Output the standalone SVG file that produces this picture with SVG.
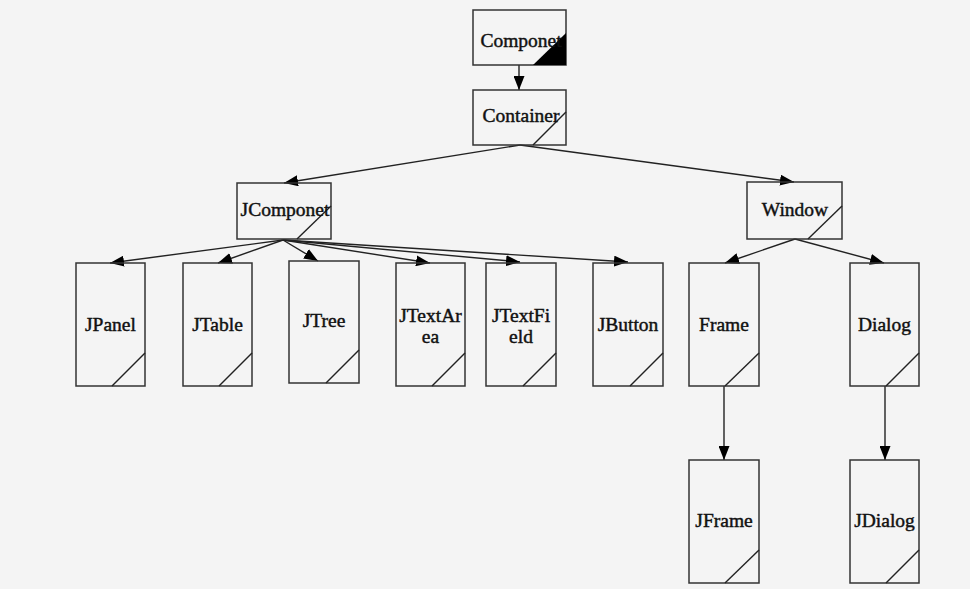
<svg xmlns="http://www.w3.org/2000/svg" width="970" height="589" viewBox="0 0 970 589">
<style>
.box{fill:none;stroke:#333;stroke-width:1.5}
.diag{fill:none;stroke:#222;stroke-width:1.4}
.lbl{font-family:"Liberation Serif","Times New Roman",serif;font-size:19.5px;fill:#111;stroke:#111;stroke-width:0.45;text-anchor:middle}
.conn{fill:none;stroke:#222;stroke-width:1.4;marker-end:url(#arr)}
</style>
<defs>
<marker id="arr" viewBox="0 0 14 11" refX="14" refY="5.5" markerWidth="14" markerHeight="11" markerUnits="userSpaceOnUse" orient="auto">
<path d="M0,0 L14,5.5 L0,11 Z" fill="#000"/>
</marker>
</defs>
<rect x="0" y="0" width="970" height="589" fill="#f4f4f4"/>
<g id="connectors">
<path class="conn" d="M519,65 L519,90"/>
<path class="conn" d="M520,145 L284,183"/>
<path class="conn" d="M520,145 L794,182"/>
<path class="conn" d="M283,240 L110,263"/>
<path class="conn" d="M283,240 L218,263"/>
<path class="conn" d="M283,240 L318,261"/>
<path class="conn" d="M283,240 L430,263"/>
<path class="conn" d="M283,240 L520,262"/>
<path class="conn" d="M283,240 L628,262"/>
<path class="conn" d="M795,239 L725,263"/>
<path class="conn" d="M795,239 L884,263"/>
<path class="conn" d="M724,386 L724,460"/>
<path class="conn" d="M885,386 L885,460"/>
</g>
<g id="Componet">
<rect class="box" x="473" y="10" width="93" height="55"/>
<path d="M533,65 L566,65 L566,33 Z" fill="#000"/>
<text class="lbl" x="521" y="47">Componet</text>
</g>
<g id="Container">
<rect class="box" x="473" y="90" width="93" height="55"/>
<path class="diag" d="M533,145 L566,112"/>
<text class="lbl" x="521" y="122">Container</text>
</g>
<g id="JComponet">
<rect class="box" x="237" y="183" width="94" height="56"/>
<path class="diag" d="M297,239 L331,206"/>
<text class="lbl" x="285" y="216">JComponet</text>
</g>
<g id="Window">
<rect class="box" x="747" y="182" width="95" height="57"/>
<path class="diag" d="M808,239 L842,206"/>
<text class="lbl" x="795" y="216">Window</text>
</g>
<g id="JPanel">
<rect class="box" x="76" y="263" width="69" height="123"/>
<path class="diag" d="M112,386 L145,353"/>
<text class="lbl" x="110.5" y="331">JPanel</text>
</g>
<g id="JTable">
<rect class="box" x="183" y="263" width="69" height="123"/>
<path class="diag" d="M219,386 L252,353"/>
<text class="lbl" x="217.5" y="331">JTable</text>
</g>
<g id="JTree">
<rect class="box" x="289" y="261" width="70" height="122"/>
<path class="diag" d="M326,383 L359,350"/>
<text class="lbl" x="324" y="327">JTree</text>
</g>
<g id="JTextArea">
<rect class="box" x="396" y="263" width="69" height="123"/>
<path class="diag" d="M432,386 L465,353"/>
<text class="lbl" x="430.5" y="322">JTextAr</text>
<text class="lbl" x="430.5" y="343">ea</text>
</g>
<g id="JTextField">
<rect class="box" x="486" y="263" width="70" height="123"/>
<path class="diag" d="M523,386 L556,353"/>
<text class="lbl" x="521" y="322">JTextFi</text>
<text class="lbl" x="521" y="343">eld</text>
</g>
<g id="JButton">
<rect class="box" x="593" y="263" width="70" height="123"/>
<path class="diag" d="M630,386 L663,353"/>
<text class="lbl" x="628" y="331">JButton</text>
</g>
<g id="Frame">
<rect class="box" x="689" y="263" width="70" height="123"/>
<path class="diag" d="M725,386 L759,353"/>
<text class="lbl" x="724" y="331">Frame</text>
</g>
<g id="Dialog">
<rect class="box" x="850" y="263" width="69" height="123"/>
<path class="diag" d="M886,386 L919,353"/>
<text class="lbl" x="884.5" y="331">Dialog</text>
</g>
<g id="JFrame">
<rect class="box" x="689" y="460" width="70" height="123"/>
<path class="diag" d="M725,583 L759,550"/>
<text class="lbl" x="724" y="527">JFrame</text>
</g>
<g id="JDialog">
<rect class="box" x="850" y="460" width="69" height="123"/>
<path class="diag" d="M886,583 L919,550"/>
<text class="lbl" x="884.5" y="527">JDialog</text>
</g>
</svg>
